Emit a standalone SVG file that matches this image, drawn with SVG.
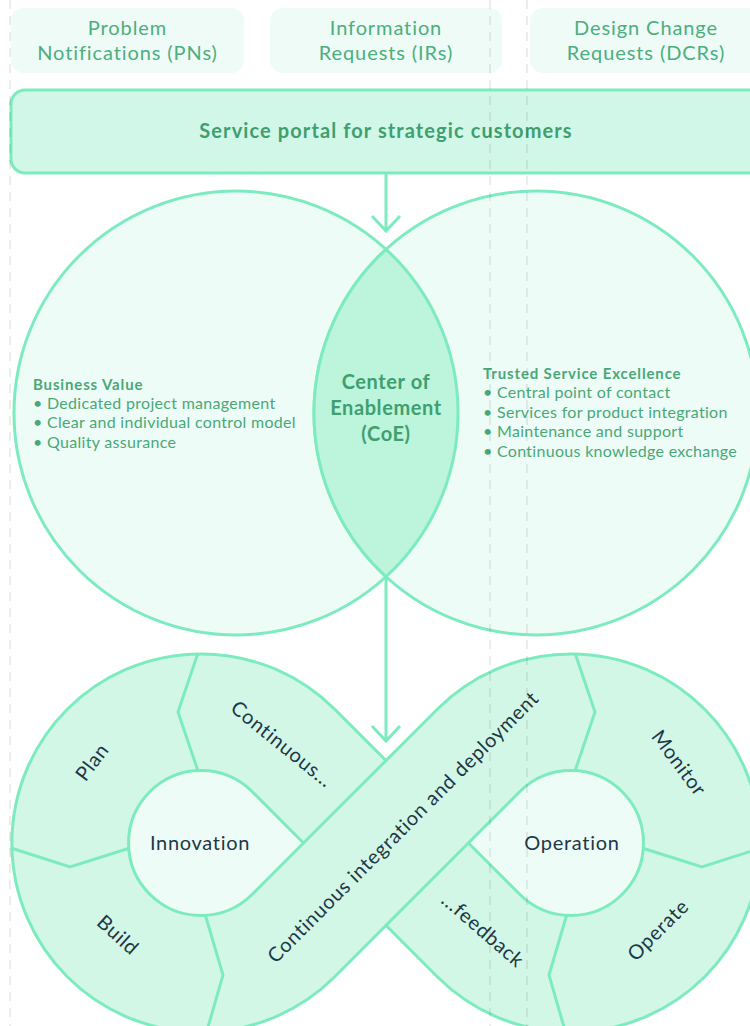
<svg xmlns="http://www.w3.org/2000/svg" width="750" height="1026" viewBox="0 0 750 1026">
<style>
.box{fill:#eefbf6;}
.boxt{font-family:Lato,"Liberation Sans",sans-serif;font-size:20px;fill:#4cae7e;text-anchor:middle;letter-spacing:0.9px;}
.ln{stroke:#7debc0;stroke-width:3;fill:none;}
.mint{fill:#d3f7e7;stroke:#7debc0;stroke-width:3;}
.light{fill:#eefcf7;stroke:#7debc0;stroke-width:3;}
.gt{font-family:Lato,"Liberation Sans",sans-serif;fill:#48a877;}
.hd{font-size:15px;font-weight:bold;letter-spacing:0.85px;}
.bl{font-size:16px;letter-spacing:0.3px;}
.ct{font-size:20px;font-weight:bold;text-anchor:middle;fill:#3f9f6f;letter-spacing:0.6px;}
.pt{font-size:20px;font-weight:bold;text-anchor:middle;fill:#3f9f6f;letter-spacing:1.1px;}
.lt{font-family:Lato,"Liberation Sans",sans-serif;font-size:20px;fill:#1d3848;text-anchor:middle;letter-spacing:0.7px;}
.dash{stroke:#000;stroke-opacity:0.1;stroke-width:1.5;stroke-dasharray:9 7;}
</style>

<g id="pn"><rect class="box" x="11" y="8" width="233" height="65" rx="13"/><text class="boxt" x="127.5" y="35">Problem</text><text class="boxt" x="127.5" y="60">Notifications (PNs)</text></g>
<g id="ir"><rect class="box" x="270" y="8" width="232" height="65" rx="13"/><text class="boxt" x="386" y="35">Information</text><text class="boxt" x="386" y="60">Requests (IRs)</text></g>
<g id="dcr"><rect class="box" x="530" y="8" width="233" height="65" rx="13"/><text class="boxt" x="646" y="35">Design Change</text><text class="boxt" x="646" y="60">Requests (DCRs)</text></g>

<g id="portal"><rect x="11" y="90" width="770" height="83" rx="14" fill="#d0f7e7" stroke="#7debc0" stroke-width="3"/><text class="gt pt" x="386" y="138">Service portal for strategic customers</text></g>

<g id="business-value"><circle class="light" cx="236" cy="413" r="222"/></g>
<g id="trusted-service"><circle class="light" cx="536" cy="413" r="222"/></g>
<g id="coe"><path d="M386,249.3 A222,222 0 0 1 386,576.7 A222,222 0 0 1 386,249.3 Z" fill="#bcf4dc" stroke="#7debc0" stroke-width="3"/>
<text class="gt ct" x="386" y="389">Center of</text><text class="gt ct" x="386" y="415">Enablement</text><text class="gt ct" x="386" y="441">(CoE)</text></g>

<g id="bv-text" class="gt"><text class="hd" x="33" y="390">Business Value</text>
<text class="bl" x="33" y="409">• Dedicated project management</text>
<text class="bl" x="33" y="428">• Clear and individual control model</text>
<text class="bl" x="33" y="448">• Quality assurance</text></g>
<g id="ts-text" class="gt"><text class="hd" x="483" y="379">Trusted Service Excellence</text>
<text class="bl" x="483" y="398">• Central point of contact</text>
<text class="bl" x="483" y="418">• Services for product integration</text>
<text class="bl" x="483" y="437">• Maintenance and support</text>
<text class="bl" x="483" y="457">• Continuous knowledge exchange</text></g>

<g id="loop">
<path class="mint" d="M334.7,709.3 L386,760.6 L437.3,709.3 A189.1,189.1 0 1 1 437.3,976.7 L386,925.4 L334.7,976.7 A189.1,189.1 0 1 1 334.7,709.3 Z"/>
<path class="ln" d="M386,760.6 L303.5,843 M468.4,843 L386,925.4"/>
<path class="ln" d="M198,653 L178,712 L198,771 M11,848 L70,867 L130,848 M205,914 L223,975 L206,1034 M575,653 L595,712 L575,771 M761,848 L702,867 L642,848 M567,914 L549,975 L566,1034"/>
</g>
<g id="innovation"><path class="light" d="M303.5,843 L252.3,791.7 A72.5,72.5 0 1 0 252.3,894.3 Z"/><text class="lt" x="200" y="850">Innovation</text></g>
<g id="operation"><path class="light" d="M468.4,843 L519.7,894.3 A72.5,72.5 0 1 0 519.7,791.7 Z"/><text class="lt" x="572" y="850">Operation</text></g>

<g id="segments" class="lt">
<text transform="translate(92,762) rotate(-53)" y="7">Plan</text>
<text transform="translate(282,744) rotate(39)" y="7">Continuous...</text>
<text transform="translate(118,935) rotate(42)" y="7">Build</text>
<text transform="translate(403,827) rotate(-45)" y="7">Continuous integration and deployment</text>
<text transform="translate(679,763) rotate(53)" y="7">Monitor</text>
<text transform="translate(658,930) rotate(-45)" y="7">Operate</text>
<text transform="translate(483,930) rotate(41)" y="7">...feedback</text>
</g>

<g id="connectors">
<path class="ln" d="M386,174 L386,231 M372,216 L386,231 L400,216"/>
<path class="ln" d="M386,577 L386,741 M372,726 L386,741 L400,726"/>
</g>

<g id="guides">
<line class="dash" x1="10" y1="0" x2="10" y2="1026"/>
<line class="dash" x1="490" y1="0" x2="490" y2="1026"/>
<line class="dash" x1="527" y1="0" x2="527" y2="1026"/>
</g>
</svg>
